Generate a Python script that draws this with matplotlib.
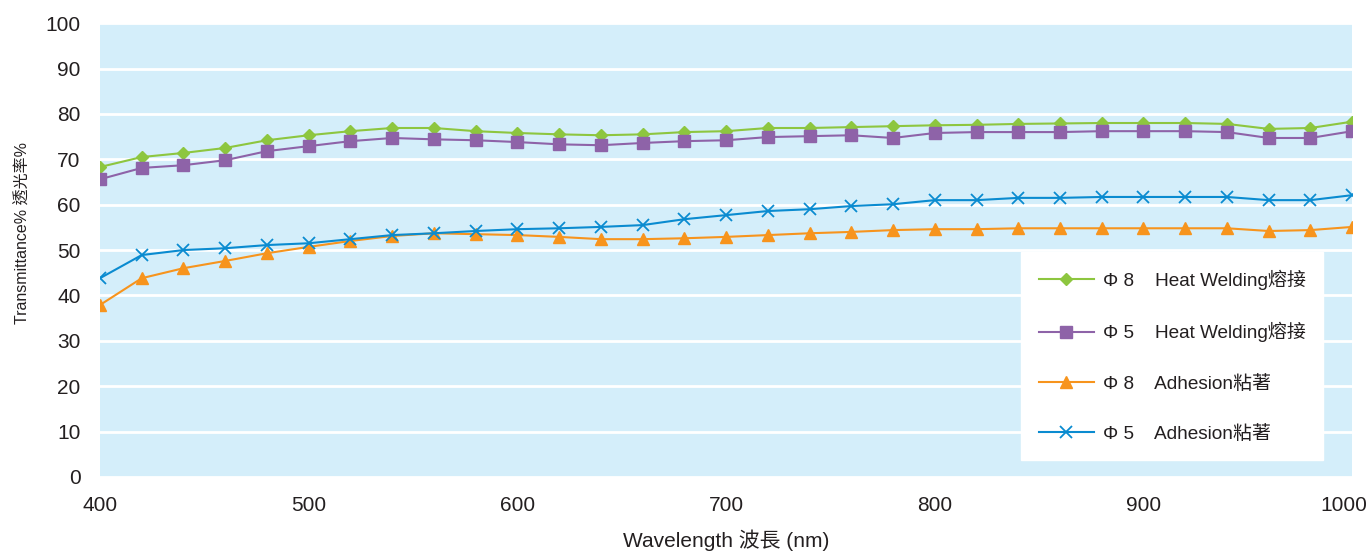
import numpy as np
import matplotlib
matplotlib.use('Agg')
import matplotlib.pyplot as plt
import matplotlib.transforms as mtransforms

plt.rcParams['font.family'] = ['Liberation Sans', 'Noto Sans CJK TC', 'DejaVu Sans']

wavelength = list(range(400, 1001, 20))

heat8 = [68.3, 70.5, 71.4, 72.5, 74.2, 75.3, 76.2, 76.9, 76.9, 76.2,
         75.8, 75.5, 75.3, 75.5, 76.0, 76.2, 76.9, 76.9, 77.1, 77.3,
         77.5, 77.6, 77.8, 77.9, 78.0, 78.0, 78.0, 77.8, 76.7, 76.9, 78.3]
heat5 = [65.6, 68.1, 68.7, 69.8, 71.8, 72.9, 74.0, 74.7, 74.4, 74.2,
         73.8, 73.3, 73.1, 73.6, 74.0, 74.2, 74.9, 75.1, 75.3, 74.7,
         75.8, 76.0, 76.0, 76.0, 76.2, 76.2, 76.2, 76.0, 74.7, 74.7, 76.2]
adh8 = [37.9, 43.8, 46.0, 47.6, 49.3, 50.7, 52.0, 53.1, 53.7, 53.5,
        53.3, 52.9, 52.4, 52.4, 52.6, 52.9, 53.3, 53.7, 54.0, 54.4,
        54.6, 54.6, 54.8, 54.8, 54.8, 54.8, 54.8, 54.8, 54.2, 54.4, 55.1]
adh5 = [43.8, 48.9, 50.0, 50.4, 51.1, 51.5, 52.4, 53.3, 53.7, 54.2,
        54.6, 54.8, 55.1, 55.5, 56.8, 57.7, 58.6, 59.0, 59.7, 60.1,
        61.0, 61.0, 61.5, 61.5, 61.7, 61.7, 61.7, 61.7, 61.0, 61.0, 62.1]

labels = ['Φ 8    Heat Welding熔接', 'Φ 5    Heat Welding熔接',
          'Φ 8    Adhesion粘著', 'Φ 5    Adhesion粘著']

fig = plt.figure(figsize=(13.7, 5.52), dpi=100)
ax = fig.add_axes([0.073, 0.136, 0.914, 0.822])
ax.set_facecolor('#d4eefa')

ax.plot(wavelength, heat8, color='#8dc63f', marker='D', markersize=6.5, lw=1.5, label=labels[0])
ax.plot(wavelength, heat5, color='#8e63a8', marker='s', markersize=9, lw=1.5, label=labels[1])
ax.plot(wavelength, adh8, color='#f7941d', marker='^', markersize=9, lw=1.5, label=labels[2])
ax.plot(wavelength, adh5, color='#0a8bd0', marker='x', markersize=9, mew=1.3, lw=1.5, label=labels[3])

ax.set_xlim(400, 1000)
ax.set_ylim(0, 100)
ax.set_xticks(np.arange(400, 1001, 100))
ax.set_yticks(np.arange(0, 101, 10))
ax.grid(axis='y', color='white', lw=2)
ax.set_axisbelow(True)
for s in ax.spines.values():
    s.set_visible(False)
ax.tick_params(length=0, labelsize=15, colors='#231f20')
ax.tick_params(axis='y', pad=14)
ax.tick_params(axis='x', pad=14)

# last x label nudged left so it stays inside the figure
last = ax.get_xticklabels()[-1]
last.set_transform(last.get_transform() + mtransforms.ScaledTranslation(-8/100, 0, fig.dpi_scale_trans))

ax.set_xlabel('Wavelength 波長 (nm)', fontsize=15, color='#231f20', labelpad=10)
ax.set_ylabel('Transmittance% 透光率%', fontsize=11.5, color='#231f20')
ax.yaxis.set_label_coords(-0.056, 0.537)

leg = ax.legend(loc='lower right', bbox_to_anchor=(0.977, 0.037), fontsize=13.7,
                frameon=True, fancybox=False, framealpha=1, edgecolor='white',
                handlelength=2.9, labelspacing=1.7, borderpad=0.9, handletextpad=0.5,
                borderaxespad=0)
for t in leg.get_texts():
    t.set_color('#231f20')

fig.savefig('out.png', dpi=100)
